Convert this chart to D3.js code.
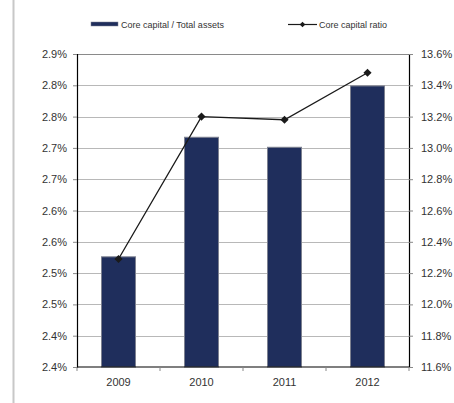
<!DOCTYPE html>
<html>
<head>
<meta charset="utf-8">
<script src="https://cdn.jsdelivr.net/npm/d3@7"></script>
<style>
  html, body { margin: 0; padding: 0; background: #fff; }
  svg { display: block; font-family: "Liberation Sans Narrow", "Liberation Sans", Arial, sans-serif; }
</style>
</head>
<body>
<svg id="chart" width="454" height="403"></svg>
<script>
// Years shown along the bottom
const years = ["2009", "2010", "2011", "2012"];
// Core capital / total assets, in percent (bars, left axis)
const capitalToAssets = [2.526, 2.717, 2.701, 2.799];
// Core capital ratio, in percent (line, right axis)
const capitalRatio = [12.29, 13.20, 13.18, 13.48];
// Axis tick values and their printed labels (left labels are rounded to one decimal)
const leftTicks = [2.35, 2.40, 2.45, 2.50, 2.55, 2.60, 2.65, 2.70, 2.75, 2.80, 2.85];
const leftTickLabels = ["2.4%", "2.4%", "2.5%", "2.5%", "2.6%", "2.6%", "2.7%", "2.7%", "2.8%", "2.8%", "2.9%"];
const rightTicks = [11.6, 11.8, 12.0, 12.2, 12.4, 12.6, 12.8, 13.0, 13.2, 13.4, 13.6];
const rightTickLabels = ["11.6%", "11.8%", "12.0%", "12.2%", "12.4%", "12.6%", "12.8%", "13.0%", "13.2%", "13.4%", "13.6%"];
const seriesNames = ["Core capital / Total assets", "Core capital ratio"];

const svg = d3.select("#chart");
const plot = { left: 77, right: 409, top: 54, bottom: 367 };

// page border line at the left
svg.append("line")
  .attr("x1", 13.5).attr("x2", 13.5).attr("y1", 0).attr("y2", 403)
  .attr("stroke", "#c8c8c8").attr("stroke-width", 2);

const x = d3.scaleBand().domain(years).range([plot.left, plot.right]);
const yL = d3.scaleLinear().domain([2.35, 2.85]).range([plot.bottom, plot.top]);
const yR = d3.scaleLinear().domain([11.6, 13.6]).range([plot.bottom, plot.top]);

// gridlines
svg.append("g").selectAll("line").data(leftTicks.slice(1, -1)).join("line")
  .attr("x1", plot.left).attr("x2", plot.right)
  .attr("y1", d => Math.round(yL(d)) + 0.5).attr("y2", d => Math.round(yL(d)) + 0.5)
  .attr("stroke", "#a6a6a6").attr("stroke-width", 0.8);

// top border
svg.append("line")
  .attr("x1", plot.left).attr("x2", plot.right)
  .attr("y1", plot.top + 0.5).attr("y2", plot.top + 0.5)
  .attr("stroke", "#8a8a8a").attr("stroke-width", 1);

// bars
const barW = 34;
svg.append("g").selectAll("rect").data(capitalToAssets).join("rect")
  .attr("x", (d, i) => x(years[i]) + x.bandwidth() / 2 - barW / 2)
  .attr("y", d => yL(d))
  .attr("width", barW)
  .attr("height", d => plot.bottom - yL(d))
  .attr("fill", "#1f2e5c")
  .attr("stroke", "#7d8190").attr("stroke-width", 1);

// axes
const fmtL = d => leftTickLabels[leftTicks.indexOf(d)];
const fmtR = d => rightTickLabels[rightTicks.indexOf(d)];
const axL = svg.append("g").attr("transform", `translate(${plot.left},0)`)
  .call(d3.axisLeft(yL).tickValues(leftTicks).tickFormat(fmtL).tickSize(4).tickPadding(6));
const axR = svg.append("g").attr("transform", `translate(${plot.right},0)`)
  .call(d3.axisRight(yR).tickValues(rightTicks).tickFormat(fmtR).tickSize(4).tickPadding(8));
const axB = svg.append("g").attr("transform", `translate(0,${plot.bottom})`)
  .call(d3.axisBottom(x).tickSize(0).tickPadding(11));

[axL, axR, axB].forEach(a => {
  a.selectAll(".domain").attr("stroke", "#000").attr("stroke-width", 1.2);
  a.selectAll(".tick line").attr("stroke", "#888");
  a.selectAll("text").attr("fill", "#333").style("font-size", "11px");
});
axB.select(".domain").attr("d", `M${plot.left},0H${plot.right}`);

// category boundary ticks under the x axis
svg.append("g").selectAll("line").data(d3.range(years.length + 1)).join("line")
  .attr("x1", i => plot.left + i * x.step()).attr("x2", i => plot.left + i * x.step())
  .attr("y1", plot.bottom).attr("y2", plot.bottom + 4)
  .attr("stroke", "#888");

// ratio line
const line = d3.line().x((d, i) => x(years[i]) + x.bandwidth() / 2).y(d => yR(d));
svg.append("path").datum(capitalRatio)
  .attr("d", line).attr("fill", "none").attr("stroke", "#1a1a1a").attr("stroke-width", 1.3);

const diamond = d3.symbol().type(d3.symbolDiamond2).size(42);
svg.append("g").selectAll("path").data(capitalRatio).join("path")
  .attr("transform", (d, i) => `translate(${x(years[i]) + x.bandwidth() / 2},${yR(d)})`)
  .attr("d", diamond).attr("fill", "#1a1a1a");

// legend
const lg = svg.append("g").style("font-size", "9px").attr("fill", "#333");
lg.append("rect").attr("x", 91).attr("y", 22).attr("width", 27).attr("height", 4)
  .attr("fill", "#1f2e5c").attr("stroke", "#7d8190").attr("stroke-width", 0.5);
lg.append("text").attr("x", 121).attr("y", 27.5).text(seriesNames[0]);
lg.append("line").attr("x1", 288).attr("x2", 317).attr("y1", 24.5).attr("y2", 24.5)
  .attr("stroke", "#1a1a1a").attr("stroke-width", 1.2);
lg.append("path").attr("transform", "translate(302.5,24.5)")
  .attr("d", d3.symbol().type(d3.symbolDiamond2).size(20)).attr("fill", "#1a1a1a");
lg.append("text").attr("x", 319).attr("y", 27.5).text(seriesNames[1]);
</script>
</body>
</html>
